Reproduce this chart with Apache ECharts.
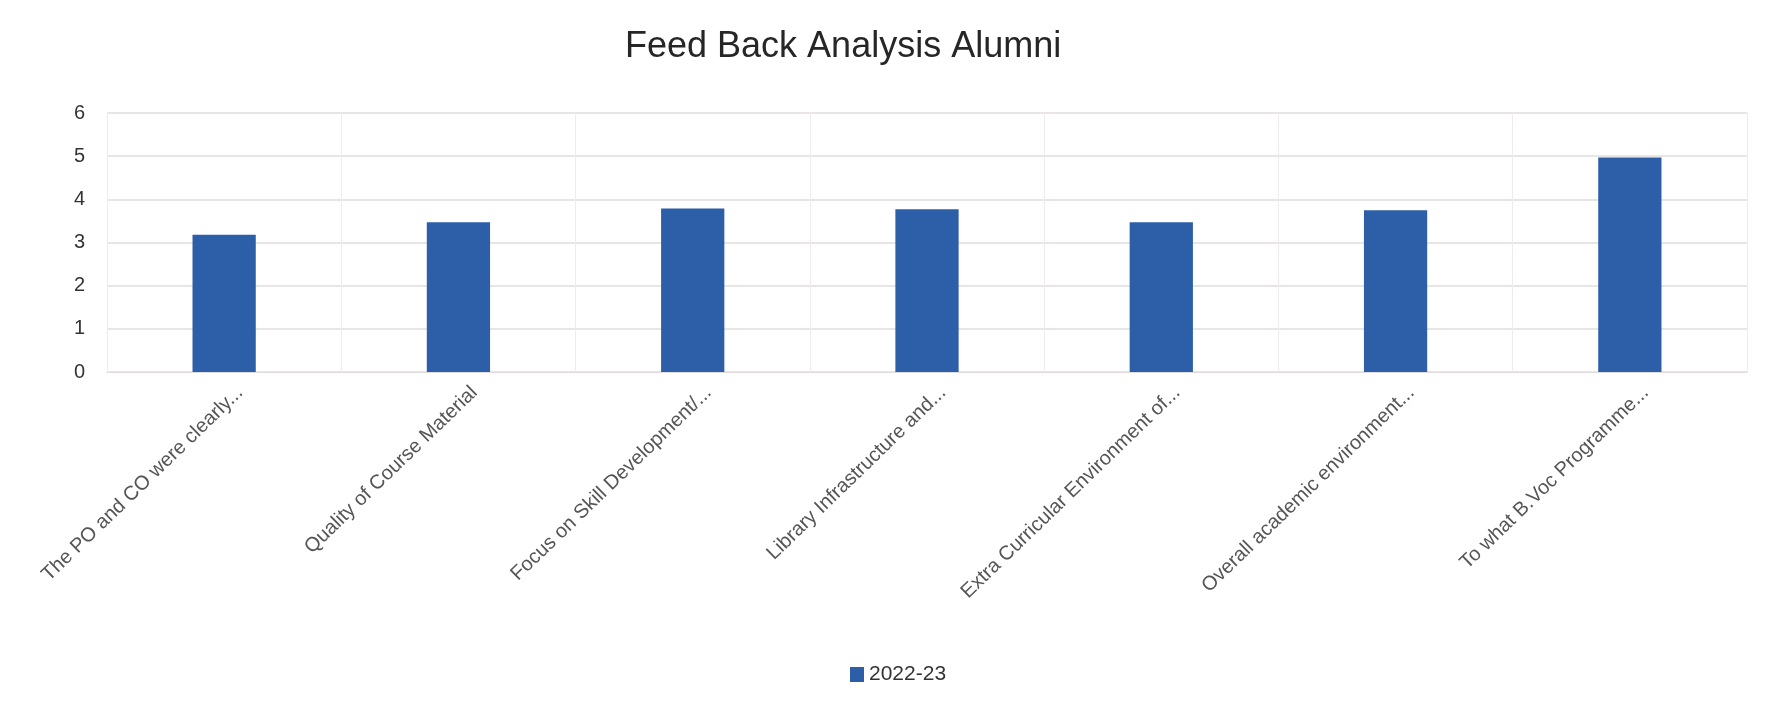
<!DOCTYPE html>
<html>
<head>
<meta charset="utf-8">
<script src="https://cdn.jsdelivr.net/npm/echarts@6/dist/echarts.min.js"></script>
<style>
  html, body { margin: 0; padding: 0; background: #ffffff; }
  #chart { width: 1772px; height: 705px; }
</style>
</head>
<body>
<div id="chart"></div>
<script>
const categories = [
  "The PO and CO were clearly...",
  "Quality of Course Material",
  "Focus on Skill Development/...",
  "Library Infrastructure and...",
  "Extra Curricular Environment of...",
  "Overall academic environment...",
  "To what B.Voc Programme..."
];
const seriesName = "2022-23";
const values2022_23 = [3.18, 3.47, 3.79, 3.77, 3.47, 3.75, 4.97];
const yTicks = { min: 0, max: 6, interval: 1 };

const chart = echarts.init(document.getElementById('chart'));
const fontFamily = "'Liberation Sans', 'DejaVu Sans', sans-serif";
chart.setOption({
  backgroundColor: '#ffffff',
  animation: false,
  title: {
    text: 'Feed Back Analysis Alumni',
    left: 620,
    top: 24,
    textStyle: { fontFamily: fontFamily, fontSize: 36, fontWeight: 'normal', color: '#262626' }
  },
  legend: {
    data: [seriesName],
    left: 845,
    top: 659,
    icon: 'rect',
    itemWidth: 14,
    itemHeight: 15,
    itemGap: 6,
    textStyle: { fontFamily: fontFamily, fontSize: 21, color: '#333333' }
  },
  grid: { left: 107, right: 25, top: 113, bottom: 333, containLabel: false },
  xAxis: {
    type: 'category',
    data: categories,
    axisLine: { show: true, lineStyle: { color: '#e2dcdc', width: 1 } },
    axisTick: { show: false },
    splitLine: { show: true, lineStyle: { color: '#f1ecec', width: 1 } },
    axisLabel: {
      interval: 0,
      rotate: 44,
      margin: 33,
      padding: [0, -22, 0, 0],
      fontFamily: fontFamily,
      fontSize: 20,
      color: '#555555'
    }
  },
  yAxis: {
    type: 'value',
    min: yTicks.min,
    max: yTicks.max,
    interval: yTicks.interval,
    axisLine: { show: false },
    axisTick: { show: false },
    splitLine: { lineStyle: { color: '#e2dcdc', width: 1.5 } },
    axisLabel: { margin: 22, fontFamily: fontFamily, fontSize: 20, color: '#333333' }
  },
  series: [{
    name: seriesName,
    type: 'bar',
    data: values2022_23,
    barWidth: '27%',
    itemStyle: { color: '#2d5ea8' }
  }]
});
</script>
</body>
</html>
